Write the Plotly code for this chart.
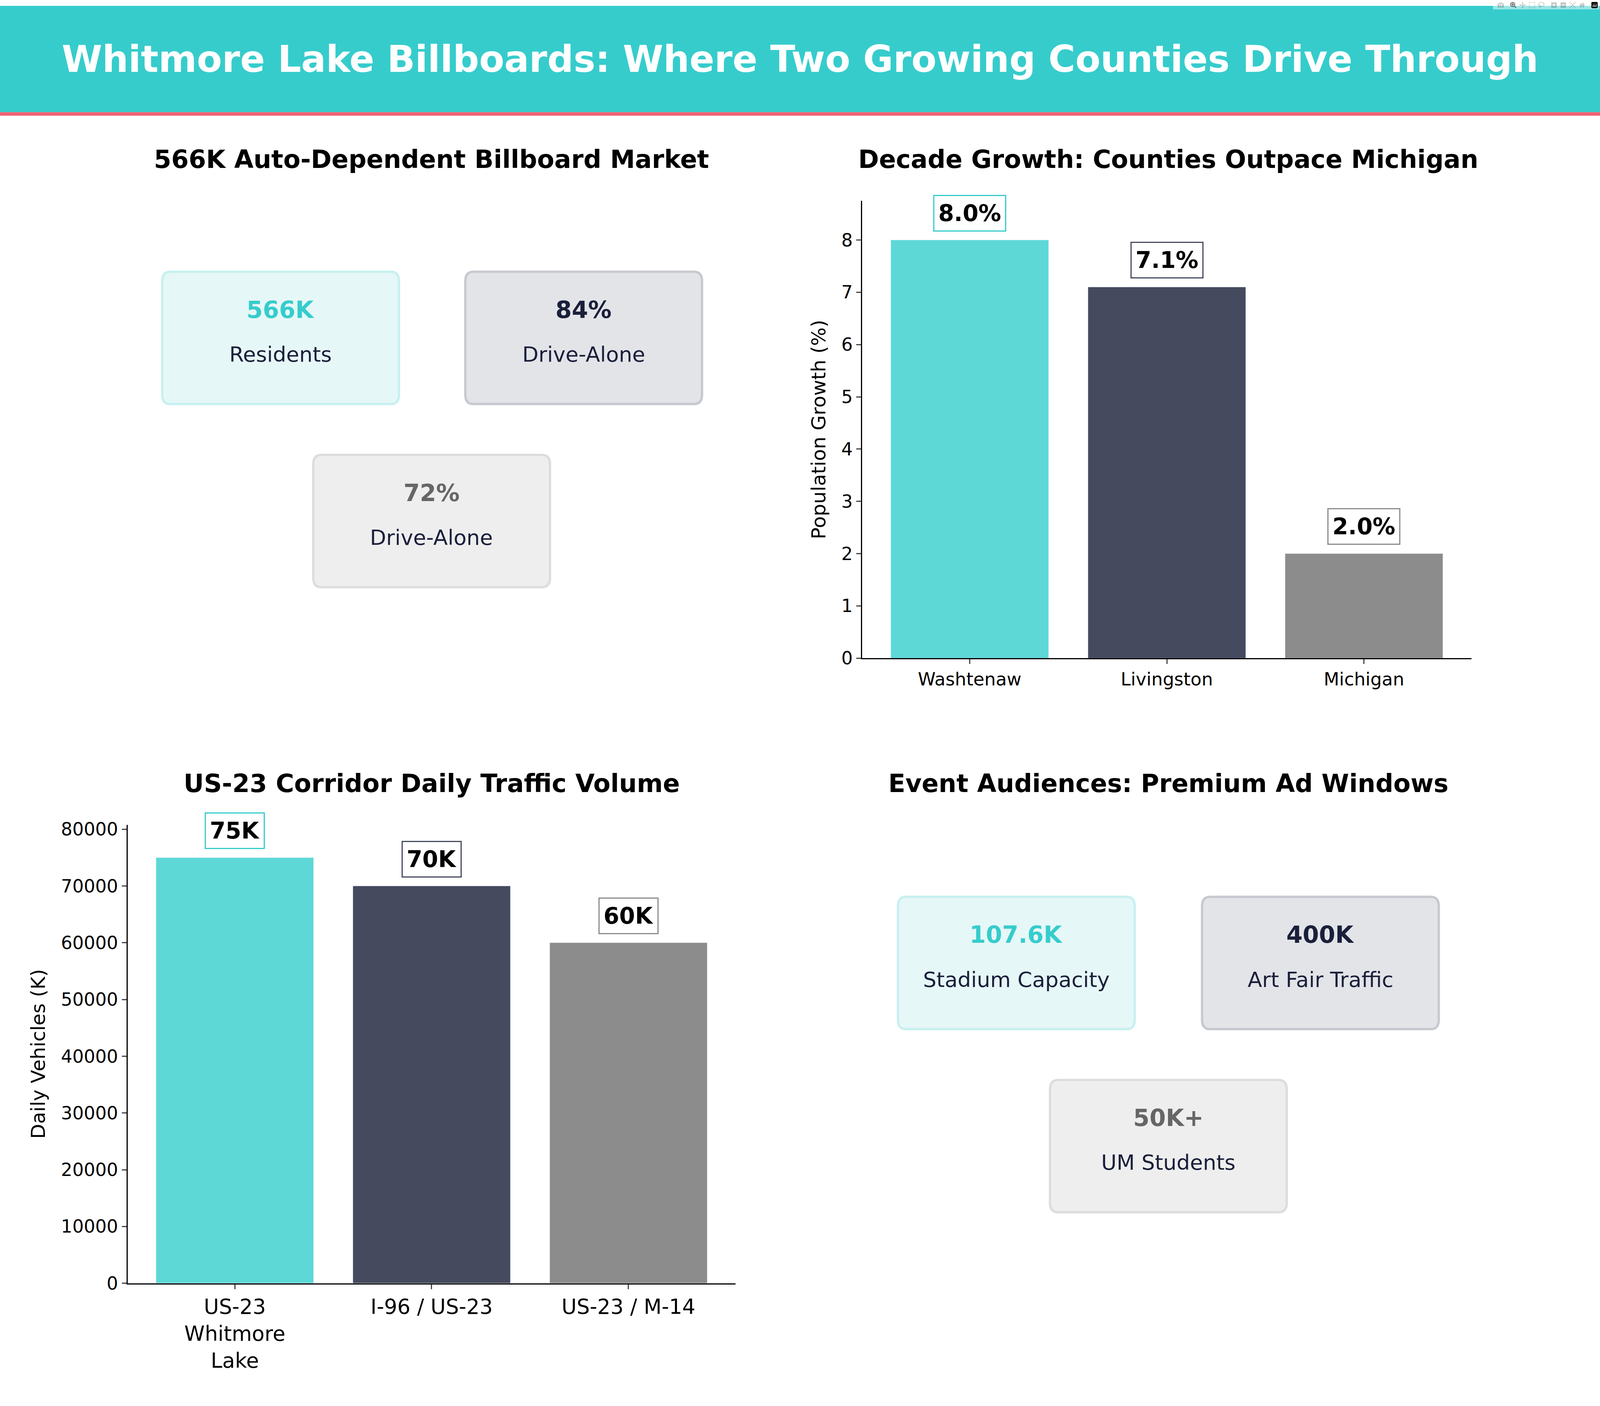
import plotly.graph_objects as go

W, H = 1568.0, 1176.0  # reference layout measured at this scale

growth_regions = ["Washtenaw", "Livingston", "Michigan"]
growth_pct = [8.0, 7.1, 2.0]
growth_labels = ["8.0%", "7.1%", "2.0%"]

traffic_sites = ["US-23<br>Whitmore<br>Lake", "I-96 / US-23", "US-23 / M-14"]
traffic_vol = [75000, 70000, 60000]
traffic_labels = ["75K", "70K", "60K"]

market_values = ["566K", "84%", "72%"]
market_names = ["Residents", "Drive-Alone", "Drive-Alone"]
event_values = ["107.6K", "400K", "50K+"]
event_names = ["Stadium Capacity", "Art Fair Traffic", "UM Students"]

bar_colors = ["#5DD8D6", "#454A5F", "#8C8C8C"]
edge_colors = ["#36CCCC", "#454A5F", "#8C8C8C"]
card_fill = ["#E6F7F7", "#E3E4E8", "#EEEEEE"]
card_line = ["#C8F0F0", "#C8C9D0", "#DDDDDD"]
card_val = ["#36CCCC", "#1A1F3A", "#666666"]
FONT = "DejaVu Sans"


def px(x):
    return x / W


def py(y):
    return 1 - y / H


def rounded(x0, y0, w, h, r=8):
    # rounded rectangle path in paper coords, from reference pixel box
    rx, ry = r / W, r / H
    a, b = px(x0), px(x0 + w)
    top, bot = py(y0), py(y0 + h)
    return (f"M {a+rx},{bot} L {b-rx},{bot} Q {b},{bot} {b},{bot+ry} "
            f"L {b},{top-ry} Q {b},{top} {b-rx},{top} L {a+rx},{top} "
            f"Q {a},{top} {a},{top-ry} L {a},{bot+ry} Q {a},{bot} {a+rx},{bot} Z")


fig = go.Figure()
fig.add_trace(go.Bar(x=growth_regions, y=growth_pct, marker_color=bar_colors,
                     width=0.8, xaxis="x", yaxis="y", showlegend=False))
fig.add_trace(go.Bar(x=traffic_sites, y=traffic_vol, marker_color=bar_colors,
                     width=0.8, xaxis="x2", yaxis="y2", showlegend=False))

axis_common = dict(showline=True, linecolor="black", linewidth=3, ticks="outside",
                   ticklen=12, tickwidth=3, showgrid=False, zeroline=False)
fig.update_layout(
    autosize=True, plot_bgcolor="white", paper_bgcolor="white",
    margin=dict(l=0, r=0, t=0, b=0), font=dict(family=FONT, color="black"),
    xaxis=dict(domain=[px(845), px(1442)], anchor="y", range=[-0.545, 2.545],
               tickfont=dict(size=46), **axis_common),
    yaxis=dict(domain=[py(552), py(165)], anchor="x", range=[0, 8.75], dtick=1,
               tickfont=dict(size=46),
               title=dict(text="Population Growth (%)", font=dict(size=50), standoff=25),
               **axis_common),
    xaxis2=dict(domain=[px(125), px(721)], anchor="y2", range=[-0.545, 2.545],
                tickfont=dict(size=53), **axis_common),
    yaxis2=dict(domain=[py(1081), py(693)], anchor="x2", range=[0, 80800], dtick=10000,
                tickformat="d", tickfont=dict(size=46),
                title=dict(text="Daily Vehicles (K)", font=dict(size=50), standoff=25),
                **axis_common),
)

shapes = [
    dict(type="rect", xref="paper", yref="paper", x0=0, x1=1, y0=py(90), y1=1,
         fillcolor="#36CCCC", line_width=0, layer="below"),
    dict(type="rect", xref="paper", yref="paper", x0=0, x1=1, y0=py(93), y1=py(90),
         fillcolor="#F06272", line_width=0),
]
ann = [
    dict(text="<b>Whitmore Lake Billboards: Where Two Growing Counties Drive Through</b>",
         x=0.5, y=py(45), xref="paper", yref="paper", showarrow=False,
         xanchor="center", yanchor="middle", font=dict(size=94, color="white")),
]
for t, (x, y) in zip(["566K Auto-Dependent Billboard Market",
                      "Decade Growth: Counties Outpace Michigan",
                      "US-23 Corridor Daily Traffic Volume",
                      "Event Audiences: Premium Ad Windows"],
                     [(423, 130), (1145, 130), (423, 658), (1145, 658)]):
    ann.append(dict(text=f"<b>{t}</b>", x=px(x), y=py(y), xref="paper", yref="paper",
                    showarrow=False, xanchor="center", yanchor="middle",
                    font=dict(size=64)))

# value labels above bars
for xs, ys, labs, xr, yr in [(growth_regions, growth_pct, growth_labels, "x", "y"),
                             (traffic_sites, traffic_vol, traffic_labels, "x2", "y2")]:
    for i, (xv, yv, lab) in enumerate(zip(xs, ys, labs)):
        ann.append(dict(text=f"<b>{lab}</b>", x=xv, y=yv, xref=xr, yref=yr,
                        showarrow=False, xanchor="center", yanchor="bottom", yshift=22,
                        font=dict(size=58), bgcolor="white",
                        bordercolor=edge_colors[i], borderwidth=3, borderpad=10))

# KPI cards
for vals, names, boxes in [
        (market_values, market_names, [(159, 225), (456, 225), (307, 380)]),
        (event_values, event_names, [(880, 754), (1178, 754), (1029, 909)])]:
    for i, (v, n, (x0, y0)) in enumerate(zip(vals, names, boxes)):
        shapes.append(dict(type="path", xref="paper", yref="paper",
                           path=rounded(x0, y0, 232, 112),
                           fillcolor=card_fill[i], line=dict(color=card_line[i], width=6)))
        cx = px(x0 + 116)
        ann.append(dict(text=f"<b>{v}</b>", x=cx, y=py(y0 + 32), xref="paper",
                        yref="paper", showarrow=False, xanchor="center", yanchor="middle",
                        font=dict(size=60, color=card_val[i])))
        ann.append(dict(text=n, x=cx, y=py(y0 + 70), xref="paper", yref="paper",
                        showarrow=False, xanchor="center", yanchor="middle",
                        font=dict(size=54, color="#1A1F3A")))

fig.update_layout(shapes=shapes, annotations=ann)

fit_page = ("var gd=document.getElementById('{plot_id}');"
            "document.documentElement.style.margin='0';"
            "document.body.style.margin='0';document.body.style.overflow='hidden';"
            "gd.style.width='100vw';gd.style.height='100vh';"
            "Plotly.Plots.resize(gd);")
fig.write_html("out.html", default_width="100vw", default_height="100vh",
               config={"responsive": True}, post_script=fit_page)
